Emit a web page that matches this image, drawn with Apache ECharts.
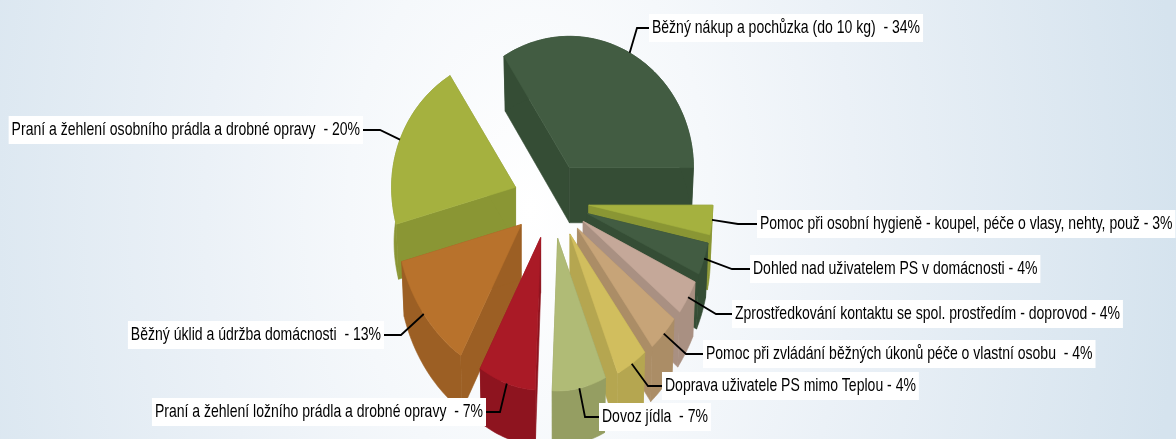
<!DOCTYPE html>
<html>
<head>
<meta charset="utf-8">
<title>Rozložený koláč</title>
<script src="https://cdn.jsdelivr.net/npm/echarts@6/dist/echarts.min.js"></script>
<style>
  html, body { margin: 0; padding: 0; }
  #chart {
    width: 1176px;
    height: 439px;
    background: radial-gradient(ellipse 650px 1000px at 530px 210px, #ffffff 0%, #f5f8fb 28%, #ebf1f7 50%, #d5e3ee 100%);
  }
</style>
</head>
<body>
<div id="chart"></div>
<script>
// clockwise from 3 o'clock, as in the picture
const labels = [
  'Pomoc při osobní hygieně - koupel, péče o vlasy, nehty, použ - 3%',
  'Dohled nad uživatelem PS v domácnosti - 4%',
  'Zprostředkování kontaktu se spol. prostředím - doprovod - 4%',
  'Pomoc při zvládání běžných úkonů péče o vlastní osobu  - 4%',
  'Doprava uživatele PS mimo Teplou - 4%',
  'Dovoz jídla  - 7%',
  'Praní a žehlení ložního prádla a drobné opravy  - 7%',
  'Běžný úklid a údržba domácnosti  - 13%',
  'Praní a žehlení osobního prádla a drobné opravy  - 20%',
  'Běžný nákup a pochůzka (do 10 kg)  - 34%'
]
// all of them round to the printed percentages
const values = [3.5, 3.6, 3.7, 3.9, 4.0, 7.0, 7.4, 12.55, 20.49, 33.86]
const topColors = ['#a5b13f', '#425c42', '#c5a899', '#c7a478', '#d1be5e', '#b0bb76', '#aa1a26', '#b8722c', '#a5b13f', '#425c42']
const wallColors = ['#8a9634', '#354d35', '#a99082', '#ab8d66', '#b5a650', '#959e62', '#8e141f', '#9c5f24', '#8a9634', '#354d35']

// back slices first so the front ones cover their walls
const drawOrder = [9, 8, 7, 6, 0, 1, 2, 3, 4, 5]

// label box anchor: [x of box edge, y of box middle, elbow x, text side]
const labelAnchors = [
  [757, 224, 738, 'left'],
  [750, 269, 732, 'left'],
  [732, 314, 716, 'left'],
  [703, 354, 686, 'left'],
  [662, 386, 648, 'left'],
  [599, 417, 585, 'left'],
  [486, 412, 500, 'right'],
  [384, 335, 401, 'right'],
  [363, 130, 380, 'right'],
  [649, 28, 637, 'left']
]

const cx = 551
const cy = 201
const radius = 124
const explode = 38
const depth = 55
const narrow = 0.738 // no narrow font here, squeeze Liberation Sans instead

const total = values.reduce((a, b) => a + b, 0)
const slices = []
let acc = 0
values.forEach(v => {
  const start = acc / total * Math.PI * 2
  acc += v
  slices.push({ start, end: acc / total * Math.PI * 2 })
})

// screen offset of a point on the disc, angle grows clockwise on screen
function project(angle, r, lower) {
  const u = Math.cos(angle) * r / radius
  const v = Math.sin(angle) * r / radius
  const sy = v > 0 ? 1.06 + 0.17 * v : 1.06
  return [u * radius * (lower ? 0.98 : 1), v * radius * sy]
}

function apex(s) {
  const mid = (s.start + s.end) / 2
  return [cx + Math.cos(mid) * explode, cy + Math.sin(mid) * explode]
}

function arcPoints(s, a, lower) {
  const pts = []
  const n = Math.max(6, Math.ceil((s.end - s.start) * 40))
  for (let i = 0; i <= n; i++) {
    const p = project(s.start + (s.end - s.start) * i / n, radius, lower)
    pts.push([a[0] + p[0], a[1] + p[1] + (lower ? depth : 0)])
  }
  return pts
}

function renderSlice(params, api) {
  const i = api.value(0)
  const s = slices[i]
  const a = apex(s)
  const top = arcPoints(s, a, false)
  const bottom = arcPoints(s, a, true)
  const low = [a[0], a[1] + depth]
  // thin stroke in the fill colour closes the seams between the faces
  const wall = { fill: wallColors[i], stroke: wallColors[i], lineWidth: 0.6 }
  const last = top.length - 1
  return {
    type: 'group',
    children: [
      { type: 'polygon', shape: { points: [a, top[0], bottom[0], low] }, style: wall },
      { type: 'polygon', shape: { points: [a, top[last], bottom[last], low] }, style: wall },
      { type: 'polygon', shape: { points: top.concat(bottom.slice().reverse()) }, style: wall },
      { type: 'polygon', shape: { points: [a].concat(top) }, style: { fill: topColors[i], stroke: topColors[i], lineWidth: 0.6 } }
    ]
  }
}

function renderLabel(params, api) {
  const i = api.value(0)
  const s = slices[i]
  const a = apex(s)
  const p = project((s.start + s.end) / 2, radius, false)
  const anchor = labelAnchors[i]
  return {
    type: 'group',
    children: [
      {
        type: 'polyline',
        shape: { points: [[a[0] + p[0], a[1] + p[1]], [anchor[2], anchor[1]], [anchor[0], anchor[1]]] },
        style: { stroke: '#000', lineWidth: 1.8, fill: null }
      },
      {
        type: 'text',
        x: anchor[0],
        y: anchor[1],
        scaleX: narrow,
        style: {
          text: labels[i],
          fontFamily: '"Liberation Sans", sans-serif',
          fontSize: 19,
          fill: '#000',
          align: anchor[3],
          verticalAlign: 'middle',
          backgroundColor: '#fff',
          padding: [5, 4, 4, 4]
        }
      }
    ]
  }
}

const chart = echarts.init(document.getElementById('chart'))
chart.setOption({
  animation: false,
  series: [
    {
      type: 'custom',
      coordinateSystem: 'none',
      silent: true,
      renderItem: renderSlice,
      data: drawOrder.map(i => [i, values[i]])
    },
    {
      type: 'custom',
      coordinateSystem: 'none',
      silent: true,
      z: 5,
      renderItem: renderLabel,
      data: labels.map((l, i) => [i])
    }
  ]
})
</script>
</body>
</html>
